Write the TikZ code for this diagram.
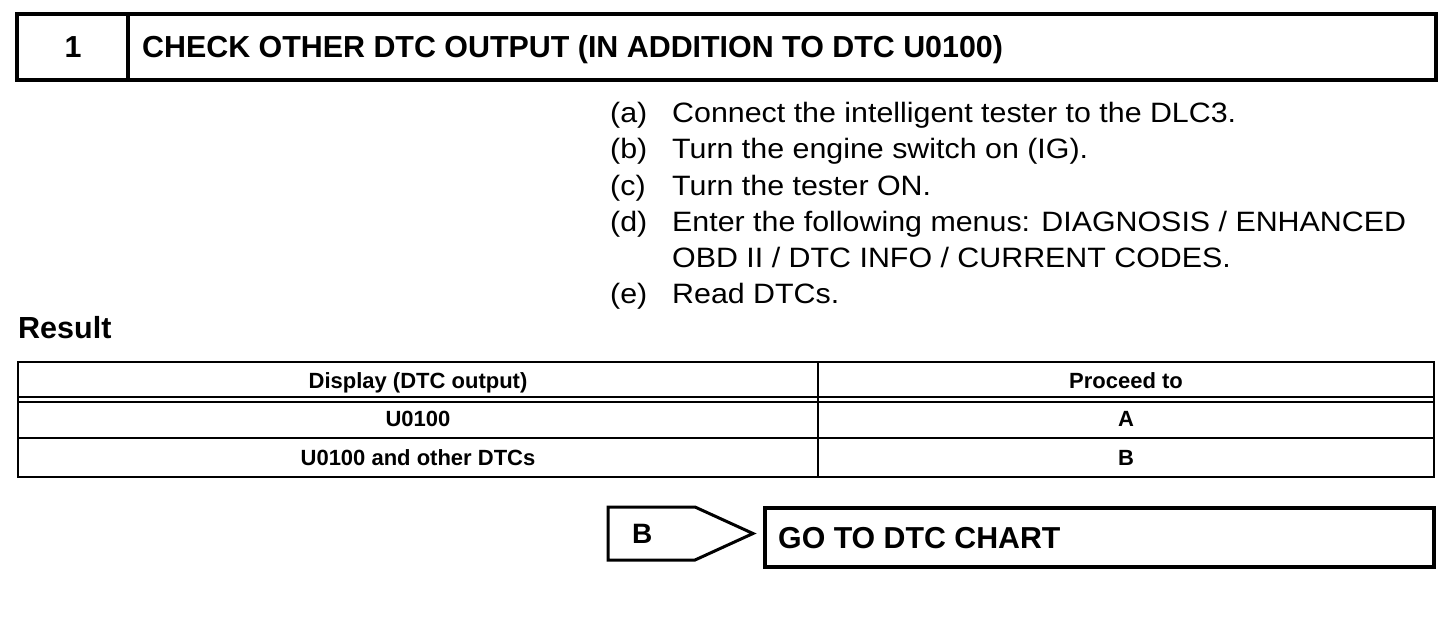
\documentclass[tikz,border=0pt]{standalone}
\usepackage{fontspec}
\setmainfont{Liberation Sans}
\newfontfamily\stepfam{Liberation Sans}[FakeStretch=1.085]
\begin{document}
\begin{tikzpicture}[x=1pt, y=-1pt,
    heavy/.style={line width=4pt},
    thin/.style={line width=2pt},
    txt/.style={inner sep=0pt, anchor=base west},
    cell/.style={inner sep=0pt, anchor=base, font=\fontsize{22}{22}\bfseries\selectfont},
    stepfont/.style={font=\stepfam\fontsize{28}{28}\selectfont}]
    \useasboundingbox (0,0) rectangle (1456,616);

    % Header box
    \draw[heavy] (17,14) rectangle (1436,80);
    \draw[heavy] (128,14) -- (128,80);
    \node[inner sep=0pt, anchor=base, font=\fontsize{30.4}{30.4}\bfseries\selectfont] (num) at (73,57) {1};
    \node[txt, font=\fontsize{30.4}{30.4}\bfseries\selectfont] (title) at (142,57) {CHECK OTHER DTC OUTPUT (IN ADDITION TO DTC U0100)};

    % Steps
    \node[txt, stepfont] (la) at (610,122) {(a)};
    \node[txt, stepfont] (sa) at (672,122) {Connect the intelligent tester to the DLC3.};
    \node[txt, stepfont] (lb) at (610,158.5) {(b)};
    \node[txt, stepfont] (sb) at (672,158.5) {Turn the engine switch on (IG).};
    \node[txt, stepfont] (lc) at (610,195) {(c)};
    \node[txt, stepfont] (sc) at (672,195) {Turn the tester ON.};
    \node[txt, stepfont] (ld) at (610,231) {(d)};
    \node[txt, stepfont] (sd) at (672,231) {Enter the following menus: DIAGNOSIS / ENHANCED};
    \node[txt, stepfont] (sd2) at (672,267) {OBD II / DTC INFO / CURRENT CODES.};
    \node[txt, stepfont] (le) at (610,303) {(e)};
    \node[txt, stepfont] (se) at (672,303) {Read DTCs.};

    % Result table
    \node[txt, font=\fontsize{30.5}{30.5}\bfseries\selectfont] (result) at (18,338) {Result};
    \draw[thin] (18,362) rectangle (1434,477);
    \draw[thin] (18,397) -- (1434,397);
    \draw[thin] (18,401.5) -- (1434,401.5);
    \draw[thin] (18,438) -- (1434,438);
    \draw[thin] (818,362) -- (818,477);
    \node[cell] (hdisp) at (418,388) {Display (DTC output)};
    \node[cell] (hproc) at (1126,388) {Proceed to};
    \node[cell] (d1) at (418,426) {U0100};
    \node[cell] (p1) at (1126,426) {A};
    \node[cell] (d2) at (418,465) {U0100 and other DTCs};
    \node[cell] (p2) at (1126,465) {B};

    % Go to B
    \draw[line width=3pt, line join=miter] (608,507) -- (695,507) -- (753,533.5) -- (695,560) -- (608,560) -- cycle;
    \node[txt, font=\fontsize{28}{28}\bfseries\selectfont] (tagB) at (632,543) {B};
    \draw[line width=3.5pt] (765,508) rectangle (1434,567);
    \node[txt, font=\fontsize{30.3}{30.3}\bfseries\selectfont] (goto) at (778,548) {GO TO DTC CHART};
\end{tikzpicture}
\end{document}
